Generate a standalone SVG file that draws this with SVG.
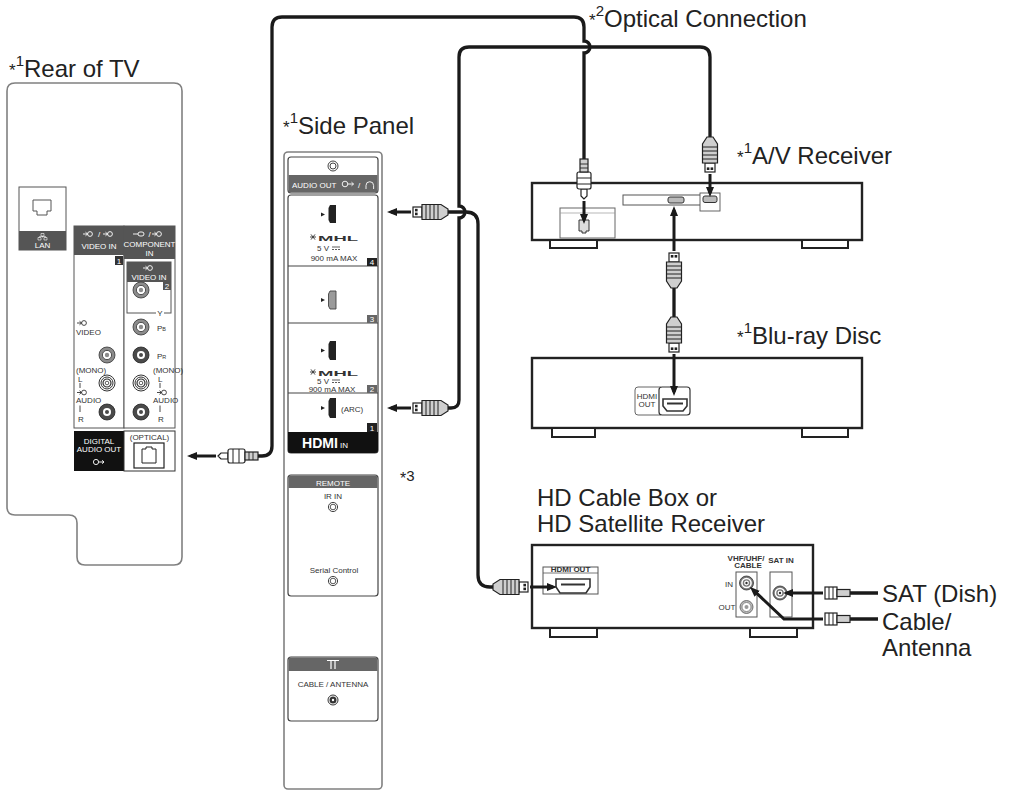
<svg xmlns="http://www.w3.org/2000/svg" width="1009" height="793" viewBox="0 0 1009 793">
<style>
.t{font-family:"Liberation Sans",Arial,sans-serif;fill:#222;font-size:24px}
.s{font-family:"Liberation Sans Narrow","Liberation Sans",Arial,sans-serif;font-size:8px;fill:#333}
.w{fill:#fff}
.c{text-anchor:middle}
.b{font-weight:bold}
.cab{fill:none;stroke:#1a1a1a;stroke-width:3.3}
.arr{fill:none;stroke:#1a1a1a;stroke-width:3;marker-end:url(#ah)}
.box{fill:#fff;stroke:#222;stroke-width:2.4}
.foot{fill:#fff;stroke:#222;stroke-width:2}
.panel{fill:#fff;stroke:#808080;stroke-width:1.6}
.sec{fill:#fff;stroke:#444;stroke-width:1.2}
.thin{fill:#fff;stroke:#555;stroke-width:1}
.pl{stroke:#222;stroke-width:1.2}
.wl{fill:none;stroke:#fff;stroke-width:0.9}
.dl{fill:none;stroke:#333;stroke-width:0.9}
</style>
<defs>
<marker id="ah" viewBox="0 0 10 8" refX="6" refY="4" markerWidth="10" markerHeight="8" markerUnits="userSpaceOnUse" orient="auto"><path d="M0,0L10,4L0,8Z" fill="#1a1a1a"/></marker>
<g id="hdmi">
<rect x="0" y="-5" width="9" height="10" fill="#fff" class="pl"/>
<rect x="2" y="-3.2" width="2.6" height="2.6" fill="#222"/>
<rect x="2" y="0.6" width="2.6" height="2.6" fill="#222"/>
<path d="M9,-7.5H28L35,-3V3L28,7.5H9Z" fill="#cfcfcf" class="pl"/>
<path d="M13,-7.5V7.5M17,-7.5V7.5M21,-7.5V7.5M25,-7.5V7.5" stroke="#222" stroke-width="1"/>
</g>
<g id="opt">
<path d="M0,0L3,-3H10V3H3Z" fill="#fff" class="pl"/>
<rect x="10" y="-7" width="17" height="14" rx="2" fill="#fff" class="pl"/>
<path d="M15,-7V7M21,-7V7" stroke="#222" stroke-width="1"/>
<rect x="27" y="-4" width="13" height="8" fill="#cfcfcf" class="pl"/>
<path d="M31,-4V4M35,-4V4" stroke="#222" stroke-width="0.9"/>
</g>
<g id="coax">
<rect x="0" y="-6" width="12" height="12" fill="#fff" class="pl"/>
<path d="M4,-6V6M8,-6V6" stroke="#222" stroke-width="1"/>
<rect x="12" y="-3.5" width="13" height="7" fill="#cfcfcf" class="pl"/>
</g>
<g id="jg"><circle r="8" fill="#8c8c8c" stroke="#333" stroke-width="0.8"/><circle r="4.6" fill="#fff" stroke="#333" stroke-width="0.8"/><circle r="2.2" fill="#8c8c8c"/></g>
<g id="jd"><circle r="8" fill="#4a4a4a" stroke="#222" stroke-width="0.8"/><circle r="4" fill="#fff"/><circle r="2" fill="#4a4a4a"/></g>
<g id="jw"><circle r="8" fill="#fff" stroke="#333" stroke-width="1"/><circle r="6" fill="none" stroke="#333" stroke-width="1"/><circle r="4" fill="none" stroke="#333" stroke-width="1.2"/><circle r="1.8" fill="#fff" stroke="#333" stroke-width="0.8"/></g>
<g id="ini"><path d="M-5,0H-0.5M-2.5,-1.8L-0.5,0L-2.5,1.8"/><circle cx="2" r="2.4"/></g>
<g id="rg"><circle r="7" fill="#777" stroke="#333" stroke-width="0.8"/><circle r="5.3" fill="#fff"/><circle r="3.8" fill="#777"/><circle r="2.4" fill="#fff"/><circle r="1.2" fill="#333"/></g>
</defs>

<!-- Rear of TV -->
<g id="rear-tv">
<text x="9" y="77" class="t"><tspan font-size="17" dy="-1">*</tspan><tspan font-size="15" dy="-10">1</tspan><tspan dy="11">Rear of TV</tspan></text>
<path class="panel" d="M15,83H174Q182,83 182,91V557Q182,565 174,565H85Q77,565 77,557V523Q77,515 69,515H15Q7,515 7,507V91Q7,83 15,83Z"/>
<rect x="19" y="187" width="47" height="63" class="thin"/>
<rect x="19" y="231" width="47" height="19" fill="#555"/>
<path d="M33,200H51V211H47V215H37V211H33Z" fill="none" stroke="#555" stroke-width="1"/>
<path d="M41,233.5h3v2.5h-3zM38,237.5h3v2.5h-3zM44,237.5h3v2.5h-3zM42.5,236v1.5M39.5,237.5v-1h6v1" fill="none" stroke="#fff" stroke-width="0.6"/>
<text x="42.5" y="248" class="s w c" font-size="8.5">LAN</text>
<rect x="74" y="226" width="50" height="202" class="thin"/>
<rect x="74" y="226" width="50" height="29" fill="#555"/>
<use href="#ini" x="88" y="234" class="wl"/>
<text x="99" y="237" class="s w c">/</text>
<use href="#ini" x="108" y="234" class="wl"/>
<text x="99" y="249" class="s w c" font-size="8.5">VIDEO IN</text>
<rect x="115" y="256" width="8" height="9" fill="#333"/>
<text x="119" y="263.5" class="s w c">1</text>
<rect x="124" y="226" width="51" height="202" class="thin"/>
<rect x="124" y="226" width="51" height="33" fill="#555"/>
<path d="M133,234H138" class="wl"/><rect x="138" y="232" width="6" height="4" rx="2" class="wl"/>
<text x="149.5" y="237" class="s w c">/</text>
<use href="#ini" x="157" y="234" class="wl"/>
<text x="149.5" y="247" class="s w c" font-size="8.3">COMPONENT</text>
<text x="149.5" y="256" class="s w c" font-size="8.3">IN</text>
<rect x="127" y="262" width="44" height="51" class="thin"/>
<rect x="127" y="262" width="44" height="20" fill="#555"/>
<use href="#ini" x="148" y="268" class="wl"/>
<text x="149" y="279.5" class="s w c" font-size="8.5">VIDEO IN</text>
<rect x="163" y="282" width="8" height="8" fill="#555"/>
<text x="167" y="288.5" class="s w c" font-size="7.5">2</text>
<rect x="156" y="309" width="8" height="7" fill="#fff"/>
<text x="160" y="316" class="s c" font-size="7.5">Y</text>
<use href="#jg" x="141" y="290"/>
<use href="#jg" x="141" y="327"/>
<use href="#jd" x="141" y="355"/>
<use href="#jw" x="141" y="383"/>
<use href="#jd" x="141" y="412"/>
<use href="#jg" x="107" y="355"/>
<use href="#jw" x="107" y="383"/>
<use href="#jd" x="107" y="412"/>
<text x="157" y="330.5" class="s" font-size="7.5">P<tspan font-size="5.5">B</tspan></text>
<text x="157" y="358.5" class="s" font-size="7.5">P<tspan font-size="5.5">R</tspan></text>
<use href="#ini" x="82" y="323" class="dl"/>
<text x="76" y="335" class="s">VIDEO</text>
<text x="76" y="373" class="s" font-size="5.5">(MONO)</text>
<text x="78" y="382" class="s" font-size="7">L</text>
<path d="M80,383V388" class="dl"/>
<use href="#ini" x="82" y="392.5" class="dl"/>
<text x="76" y="403" class="s">AUDIO</text>
<path d="M80,405.5V412" class="dl"/>
<text x="78" y="422" class="s" font-size="7">R</text>
<text x="153" y="373" class="s" font-size="5.5">(MONO)</text>
<text x="158" y="382" class="s" font-size="7">L</text>
<path d="M160,383V388" class="dl"/>
<use href="#ini" x="162" y="392.5" class="dl"/>
<text x="153" y="403" class="s">AUDIO</text>
<path d="M160,405.5V412" class="dl"/>
<text x="158" y="422" class="s" font-size="7">R</text>
<rect x="74" y="431" width="50" height="40" fill="#111"/>
<rect x="124" y="431" width="51" height="40" fill="#fff" stroke="#333" stroke-width="1"/>
<text x="99" y="443.5" class="s w c" font-size="8.5">DIGITAL</text>
<text x="99" y="452" class="s w c" font-size="8.2">AUDIO OUT</text>
<circle cx="96" cy="462" r="2.6" class="wl"/><path d="M98.6,462H104M102,460.3L104,462L102,463.7" class="wl"/>
<text x="149.5" y="440" class="s c" font-size="8.5">(OPTICAL)</text>
<rect x="134" y="443" width="30" height="25" fill="#fff" stroke="#222" stroke-width="1.2"/>
<path d="M142,449H146V447H152V449H156V463H142Z" fill="none" stroke="#222" stroke-width="1"/>
</g>

<!-- Side panel -->
<g id="side-panel">
<text x="283" y="134" class="t"><tspan font-size="17" dy="-1">*</tspan><tspan font-size="15" dy="-10">1</tspan><tspan dy="11">Side Panel</tspan></text>
<rect x="284" y="152" width="98" height="637" rx="4" class="panel"/>
<rect x="288" y="157" width="90" height="36" rx="3" class="sec"/>
<rect x="288.6" y="175" width="88.8" height="17.4" fill="#666"/>
<circle cx="333" cy="166" r="5" fill="#fff" stroke="#444" stroke-width="1"/>
<circle cx="333" cy="166" r="3" fill="none" stroke="#444" stroke-width="1"/>
<text x="292" y="188" class="s w" font-size="9.5">AUDIO OUT</text>
<circle cx="345" cy="184" r="2.8" class="wl"/><path d="M347.8,184H353.5M351.5,182.2L353.5,184L351.5,185.8" class="wl"/>
<text x="358" y="188" class="s w" font-size="9">/</text>
<path d="M366,189V185.5A3.8,3.8 0 0 1 373.6,185.5V189" class="wl"/>
<rect x="288" y="195" width="90" height="258" rx="3" class="sec"/>
<path d="M288,266H378M288,323H378M288,393H378" stroke="#444" stroke-width="1.2"/>
<path d="M321,212.5L325,214.5L321,216.5Z" fill="#222"/>
<path d="M330,205H336V223H330L328.5,220V208Z" fill="#222"/>
<path d="M310,237H316M311,234.4L315,239.6M311,239.6L315,234.4" stroke="#333" stroke-width="0.9"/>
<text x="338" y="241" class="s b c" font-size="11" textLength="40" lengthAdjust="spacingAndGlyphs">MHL</text>
<text x="329" y="251" class="s" font-size="9.5" text-anchor="end">5 V</text>
<path d="M332,247H340M332,249.5H334M335,249.5H337M338,249.5H340" stroke="#333" stroke-width="0.8"/>
<text x="334" y="260.5" class="s c" font-size="9.5">900 mA MAX</text>
<rect x="367" y="258" width="10" height="8" fill="#222"/>
<text x="372" y="265" class="s w c" font-size="7.5">4</text>
<path d="M321,298L325,300L321,302Z" fill="#222"/>
<path d="M330,291H336V309H330L328.5,306V294Z" fill="#9a9a9a" stroke="#444" stroke-width="0.9"/>
<rect x="367" y="315" width="10" height="8" fill="#666"/>
<text x="372" y="322" class="s w c" font-size="7.5">3</text>
<path d="M321,348.5L325,350.5L321,352.5Z" fill="#222"/>
<path d="M330,341H336V360H330L328.5,357V344Z" fill="#222"/>
<path d="M310,372H316M311,369.4L315,374.6M311,374.6L315,369.4" stroke="#333" stroke-width="0.9"/>
<text x="338" y="376" class="s b c" font-size="11" textLength="40" lengthAdjust="spacingAndGlyphs">MHL</text>
<text x="329" y="384" class="s" font-size="9.5" text-anchor="end">5 V</text>
<path d="M332,380H340M332,382.5H334M335,382.5H337M338,382.5H340" stroke="#333" stroke-width="0.8"/>
<text x="332" y="391.5" class="s c" font-size="9.5">900 mA MAX</text>
<rect x="367" y="385" width="10" height="8" fill="#666"/>
<text x="372" y="392" class="s w c" font-size="7.5">2</text>
<path d="M321,406L325,408L321,410Z" fill="#222"/>
<path d="M330,398H336V418H330L328.5,415V401Z" fill="#222"/>
<text x="341" y="412" class="s" font-size="9.5">(ARC)</text>
<rect x="367" y="423" width="10" height="9" fill="#222"/>
<text x="372" y="430.5" class="s w c" font-size="7.5">1</text>
<path d="M288,432H378V450Q378,453 375,453H291Q288,453 288,450Z" fill="#111"/>
<text x="302" y="448" class="w b" font-family="Liberation Sans,Arial,sans-serif" font-size="14" textLength="36" lengthAdjust="spacingAndGlyphs">HDMI</text>
<text x="340" y="448" class="s w" font-size="9">IN</text>
<rect x="288" y="475" width="90" height="121" rx="3" class="sec"/>
<path d="M288.6,488V478Q288.6,475.6 291,475.6H375Q377.4,475.6 377.4,478V488Z" fill="#666"/>
<text x="333" y="485.5" class="s w c" font-size="10">REMOTE</text>
<text x="333" y="499" class="s c" font-size="10">IR IN</text>
<circle cx="333" cy="507" r="4.6" fill="#fff" stroke="#444" stroke-width="1"/>
<circle cx="333" cy="507" r="2.8" fill="none" stroke="#444" stroke-width="0.9"/>
<text x="334" y="573" class="s c" font-size="11">Serial Control</text>
<circle cx="333" cy="581" r="4.6" fill="#fff" stroke="#444" stroke-width="1"/>
<circle cx="333" cy="581" r="2.8" fill="none" stroke="#444" stroke-width="0.9"/>
<rect x="288" y="657" width="90" height="64" rx="3" class="sec"/>
<path d="M288.6,671V660Q288.6,657.6 291,657.6H375Q377.4,657.6 377.4,660V671Z" fill="#666"/>
<path d="M327,660.5H339M331,660.5V669M335,660.5V669" stroke="#fff" stroke-width="1.2" fill="none"/>
<text x="333" y="687" class="s c" font-size="11">CABLE / ANTENNA</text>
<circle cx="333" cy="700" r="5" fill="#fff" stroke="#333" stroke-width="1"/>
<circle cx="333" cy="700" r="3.5" fill="#333"/>
<circle cx="333" cy="700" r="1.2" fill="#fff"/>
<text x="400" y="484" class="t"><tspan font-size="16">*</tspan><tspan font-size="15" dy="-3">3</tspan></text>
</g>

<!-- A/V Receiver -->
<g id="av-receiver">
<text x="737" y="164" class="t"><tspan font-size="17" dy="-1">*</tspan><tspan font-size="15" dy="-10">1</tspan><tspan dy="11">A/V Receiver</tspan></text>
<rect x="532" y="183" width="330" height="57" class="box"/>
<rect x="550" y="240" width="47" height="8" class="foot"/>
<rect x="802" y="240" width="46" height="8" class="foot"/>
<rect x="560" y="208" width="55" height="30" fill="#fff" stroke="#666" stroke-width="1"/>
<path d="M560,213H615" stroke="#999" stroke-width="0.7"/>
<path d="M579,220H589V231H586V233H582V231H579Z" fill="#ddd" stroke="#333" stroke-width="1"/>
<rect x="623" y="195" width="95" height="10" fill="#fff" stroke="#555" stroke-width="1"/>
<rect x="668" y="197" width="16" height="6" rx="2" fill="#bbb" stroke="#333" stroke-width="1"/>
<rect x="700" y="193" width="20" height="18" fill="#fff" stroke="#555" stroke-width="0.9"/>
<rect x="703" y="196" width="14" height="6.5" rx="2" fill="#bbb" stroke="#333" stroke-width="1"/>
</g>

<!-- Blu-ray -->
<g id="bluray">
<text x="737" y="344" class="t"><tspan font-size="17" dy="-1">*</tspan><tspan font-size="15" dy="-10">1</tspan><tspan dy="11">Blu-ray Disc</tspan></text>
<rect x="532" y="358" width="330" height="70" class="box"/>
<rect x="552" y="428" width="43" height="9" class="foot"/>
<rect x="802" y="428" width="46" height="9" class="foot"/>
<rect x="635" y="387" width="28" height="28" rx="3" fill="#fff" stroke="#666" stroke-width="1"/>
<text x="647" y="398.5" class="s c" font-size="6.5">HDMI</text>
<text x="647" y="407" class="s c" font-size="6.5">OUT</text>
<rect x="659" y="387" width="31" height="28" rx="3" fill="#fff" stroke="#333" stroke-width="1.2"/>
<path d="M663,399H687V406L683,411H667L663,406Z" fill="#fff" stroke="#333" stroke-width="1.6"/>
<path d="M667,403.5H683" stroke="#333" stroke-width="2"/>
</g>

<!-- HD Cable Box -->
<g id="cable-box">
<text x="537" y="506" class="t" font-size="23">HD Cable Box or</text>
<text x="537" y="532" class="t" font-size="23">HD Satellite Receiver</text>
<rect x="532" y="545" width="281" height="83" class="box"/>
<rect x="550" y="628" width="47" height="9" class="foot"/>
<rect x="750" y="628" width="47" height="9" class="foot"/>
<rect x="543" y="567" width="55" height="27" fill="#fff" stroke="#555" stroke-width="1"/>
<path d="M543,573H598" stroke="#555" stroke-width="0.8"/>
<text x="570.5" y="572" class="s b c" font-size="6">HDMI OUT</text>
<path d="M556,579H590V587L586,593H560L556,587Z" fill="#fff" stroke="#333" stroke-width="1.6"/>
<path d="M561,584.5H585" stroke="#333" stroke-width="2"/>
<text x="746" y="561" class="s b c" font-size="6.5">VHF/UHF/</text>
<text x="748" y="568" class="s b c" font-size="6.5">CABLE</text>
<rect x="736" y="572" width="21" height="45" fill="#fff" stroke="#555" stroke-width="1"/>
<use href="#rg" x="746.5" y="583"/>
<circle cx="746.5" cy="607" r="6.5" fill="#bbb" stroke="#555" stroke-width="0.8"/>
<circle cx="746.5" cy="607" r="4.5" fill="#fff" stroke="#777" stroke-width="0.8"/>
<circle cx="746.5" cy="607" r="2" fill="#999"/>
<text x="729" y="586.5" class="s c" font-size="6.5">IN</text>
<text x="727" y="609.5" class="s c" font-size="6.5" fill="#888">OUT</text>
<text x="781" y="563" class="s b c" font-size="6">SAT IN</text>
<rect x="770" y="572" width="22" height="45" fill="#fff" stroke="#555" stroke-width="1"/>
<use href="#rg" x="780" y="593"/>
<text x="882" y="602" class="t">SAT (Dish)</text>
<text x="882" y="630" class="t" font-size="23">Cable/</text>
<text x="882" y="656" class="t" font-size="23">Antenna</text>
</g>

<text x="589" y="27" class="t"><tspan font-size="17" dy="-1">*</tspan><tspan font-size="15" dy="-10">2</tspan><tspan dy="11">Optical Connection</tspan></text>

<!-- Connectors -->
<g id="connectors">
<path class="cab" d="M258,456H262Q272,456 272,446V27Q272,17 282,17H574Q584,17 584,27V41A6,6 0 0 1 584,53V159"/>
<path class="cab" d="M448,408H451Q459,408 459,400V218A6,6 0 0 0 459,206V57Q459,47 469,47H700Q710,47 710,57V137"/>
<path class="cab" d="M448,212H466Q478,212 478,224V575Q478,587 490,587H493"/>
<path class="cab" d="M674,288V317"/>
<path class="cab" d="M850,593H878M850,619H878"/>
<path class="arr" d="M216,456H191"/>
<path class="arr" d="M411,212H391"/>
<path class="arr" d="M411,408H391"/>
<path class="arr" d="M710,174V193"/>
<path class="arr" d="M584,201V220"/>
<path class="arr" d="M674,251V210"/>
<path class="arr" d="M674,354V392"/>
<path class="arr" d="M530,587H553"/>
<path class="arr" d="M823,593H787"/>
<path class="arr" d="M823,619H784L752.9,589.7"/>
<use href="#opt" transform="translate(218,456)"/>
<use href="#opt" transform="translate(584,199) rotate(-90)"/>
<use href="#hdmi" transform="translate(413,212)"/>
<use href="#hdmi" transform="translate(413,408)"/>
<use href="#hdmi" transform="translate(710,172) rotate(-90)"/>
<use href="#hdmi" transform="translate(674,253) rotate(90)"/>
<use href="#hdmi" transform="translate(674,352) rotate(-90)"/>
<use href="#hdmi" transform="translate(528,587) rotate(180)"/>
<use href="#coax" transform="translate(825,593)"/>
<use href="#coax" transform="translate(825,619)"/>
</g>
</svg>
